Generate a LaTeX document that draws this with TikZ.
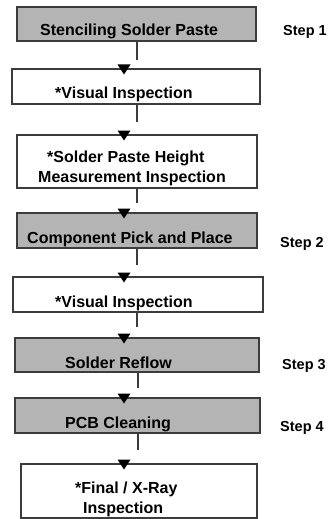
\documentclass[tikz,border=0pt]{standalone}
\usepackage{fontspec}
\setmainfont{Liberation Sans}
\definecolor{lineg}{RGB}{60,60,60}
\definecolor{boxfill}{RGB}{180,180,180}
\begin{document}
\begin{tikzpicture}[x=1pt,y=-1pt,
  box/.style={draw=lineg, line width=1.2pt, inner sep=0pt},
  grey/.style={box, fill=boxfill},
  txt/.style={anchor=base west, inner sep=0pt, font=\fontsize{16}{18}\selectfont\bfseries},
  steplbl/.style={anchor=base west, inner sep=0pt, font=\fontsize{14.5}{17}\selectfont\bfseries},
  conn/.style={draw=lineg, line width=1.2pt},
  tipc/.style={fill=black}]
\useasboundingbox (0,0) rectangle (332,519);
\fill[white] (0,0) rectangle (332,519);
% boxes
\node[grey, minimum width=239pt, minimum height=34pt] (b1) at (136.5,24) {};
\node[box,  minimum width=248pt, minimum height=35pt] (b2) at (136,86.5) {};
\node[box,  minimum width=240pt, minimum height=53pt] (b3) at (137,161.5) {};
\node[grey, minimum width=240pt, minimum height=35pt] (b4) at (137,230.5) {};
\node[box,  minimum width=250pt, minimum height=35pt] (b5) at (138,294.5) {};
\node[grey, minimum width=244pt, minimum height=34pt] (b6) at (137,355) {};
\node[grey, minimum width=245pt, minimum height=35pt] (b7) at (137.5,415.5) {};
\node[box,  minimum width=236pt, minimum height=54pt] (b8) at (139,491) {};
% texts
\node[txt] (t1) at (40,36) {Stenciling Solder Paste};
\node[txt] (t2) at (55,98) {*Visual Inspection};
\node[txt] (t3a) at (47,162) {*Solder Paste Height};
\node[txt] (t3b) at (38,182) {Measurement Inspection};
\node[txt] (t4) at (27,243) {Component Pick and Place};
\node[txt] (t5) at (55,307) {*Visual Inspection};
\node[txt] (t6) at (65,368) {Solder Reflow};
\node[txt] (t7) at (65,428) {PCB Cleaning};
\node[txt] (t8a) at (75,493) {*Final / X-Ray};
\node[txt] (t8b) at (83,513) {Inspection};
% step labels
\node[steplbl] (s1) at (283,36) {Step 1};
\node[steplbl] (s2) at (280,247) {Step 2};
\node[steplbl] (s3) at (282,369) {Step 3};
\node[steplbl] (s4) at (280,431) {Step 4};
% connector ends
\coordinate (c1) at (137,60);
\coordinate (c2) at (137,122);
\coordinate (c3) at (137,203);
\coordinate (c4) at (137,265);
\coordinate (c5) at (137,327);
\coordinate (c6) at (138,388);
\coordinate (c7) at (138,450);
\draw[conn] (c1 |- b1.south) -- (c1);
\draw[conn] (c2 |- b2.south) -- (c2);
\draw[conn] (c3 |- b3.south) -- (c3);
\draw[conn] (c4 |- b4.south) -- (c4);
\draw[conn] (c5 |- b5.south) -- (c5);
\draw[conn] (c6 |- b6.south) -- (c6);
\draw[conn] (c7 |- b7.south) -- (c7);
% arrowheads on box tops
\coordinate (a2) at (124,69);
\coordinate (a3) at (124,135);
\coordinate (a4) at (124,213);
\coordinate (a5) at (124,277);
\coordinate (a6) at (124,338);
\coordinate (a7) at (124,398);
\coordinate (a8) at (124,464);
\foreach \a in {a2,a3,a4,a5,a6,a7,a8}
  \fill[tipc] (\a) ++(-6.5,-4.5) -- ++(13,0) -- ++(-6.5,10) -- cycle;
\end{tikzpicture}
\end{document}
